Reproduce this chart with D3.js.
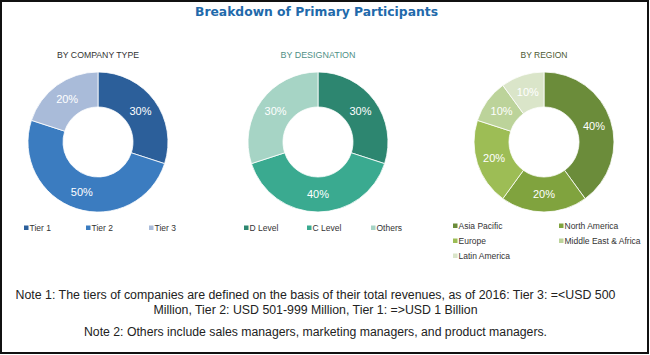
<!DOCTYPE html>
<html><head><meta charset="utf-8">
<script src="https://cdn.jsdelivr.net/npm/d3@7"></script>
<style>html,body{margin:0;padding:0;background:#fff;}svg{display:block;}</style>
</head><body>
<script>
const chartTitle = "Breakdown of Primary Participants";
const panelTitles = ["BY COMPANY TYPE", "BY DESIGNATION", "BY REGION"];
const companyCategories = ["Tier 1", "Tier 2", "Tier 3"];
const companyValues = [30, 50, 20];
const designationCategories = ["D Level", "C Level", "Others"];
const designationValues = [30, 40, 30];
const regionCategories = ["Asia Pacific", "North America", "Europe", "Middle East & Africa", "Latin America"];
const regionValues = [40, 20, 20, 10, 10];
const notes = [
  "Note 1: The tiers of companies are defined on the basis of their total revenues, as of 2016: Tier 3: =<USD 500",
  "Million, Tier 2: USD 501-999 Million, Tier 1: =>USD 1 Billion",
  "Note 2: Others include sales managers, marketing managers, and product managers."
];

const W = 650, H = 355;
const svg = d3.select("body").append("svg").attr("width", W).attr("height", H);
svg.append("rect").attr("width", W).attr("height", H).attr("fill", "#fff");

svg.append("text").attr("x", 316.5).attr("y", 16).attr("text-anchor", "middle")
  .attr("font-family", "DejaVu Sans").attr("font-weight", "bold").attr("font-size", 12)
  .attr("fill", "#1f6aab").attr("textLength", 243).attr("lengthAdjust", "spacingAndGlyphs")
  .text(chartTitle);

const panels = [
  {cx: 98, title: panelTitles[0], titleColor: "#333", tw: 82, cats: companyCategories, vals: companyValues,
   colors: ["#2c5f9a", "#3b7cc0", "#a9bbd9"],
   legend: [{c:0,x:24,y:231},{c:1,x:86,y:231},{c:2,x:149,y:231}]},
  {cx: 318, title: panelTitles[1], titleColor: "#4f8f86", tw: 75, cats: designationCategories, vals: designationValues,
   colors: ["#2d8670", "#3aaa90", "#a6d4c5"],
   legend: [{c:0,x:244,y:231},{c:1,x:307,y:231},{c:2,x:371,y:231}]},
  {cx: 544, title: panelTitles[2], titleColor: "#4d5a33", tw: 47, cats: regionCategories, vals: regionValues,
   colors: ["#6b8c3a", "#80a33e", "#9dbd55", "#bcd39a", "#dae5c9"],
   legend: [{c:0,x:453,y:229},{c:1,x:559,y:229},{c:2,x:453,y:244},{c:3,x:559,y:244},{c:4,x:453,y:259}]}
];

const cy = 142, rOut = 70, rIn = 35;
const pie = d3.pie().sort(null).value(d => d);
const arc = d3.arc().innerRadius(rIn).outerRadius(rOut);

panels.forEach(p => {
  svg.append("text").attr("x", p.cx).attr("y", 58).attr("text-anchor", "middle")
    .attr("font-family", "Liberation Sans").attr("font-size", 9.5).attr("fill", p.titleColor)
    .attr("textLength", p.tw).attr("lengthAdjust", "spacingAndGlyphs").text(p.title);
  const g = svg.append("g").attr("transform", `translate(${p.cx},${cy})`);
  const arcs = pie(p.vals);
  g.selectAll("path").data(arcs).join("path")
    .attr("d", arc).attr("fill", (d, i) => p.colors[i])
    .attr("stroke", "#fff").attr("stroke-width", 0.8);
  g.selectAll("text").data(arcs).join("text")
    .attr("transform", d => `translate(${arc.centroid(d)})`)
    .attr("text-anchor", "middle").attr("dy", "0.35em")
    .attr("font-family", "Liberation Sans").attr("font-size", 11).attr("fill", "#fff")
    .text(d => d.data + "%");
  p.legend.forEach(l => {
    svg.append("rect").attr("x", l.x).attr("y", l.y - 5.5).attr("width", 4.5).attr("height", 4.5)
      .attr("fill", p.colors[l.c]);
    svg.append("text").attr("x", l.x + 5.5).attr("y", l.y)
      .attr("font-family", "Liberation Sans").attr("font-size", 8.5).attr("fill", "#333")
      .text(p.cats[l.c]);
  });
});

const noteY = [299, 314, 336];
const noteW = [600, 324, 463];
notes.forEach((t, i) => {
  svg.append("text").attr("x", 315.5).attr("y", noteY[i]).attr("text-anchor", "middle")
    .attr("font-family", "Liberation Sans").attr("font-size", 12).attr("fill", "#222")
    .attr("textLength", noteW[i]).attr("lengthAdjust", "spacingAndGlyphs").text(t);
});

svg.append("rect").attr("x", 1).attr("y", 1).attr("width", 647).attr("height", 352)
  .attr("fill", "none").attr("stroke", "#111").attr("stroke-width", 2);
</script>
</body></html>
